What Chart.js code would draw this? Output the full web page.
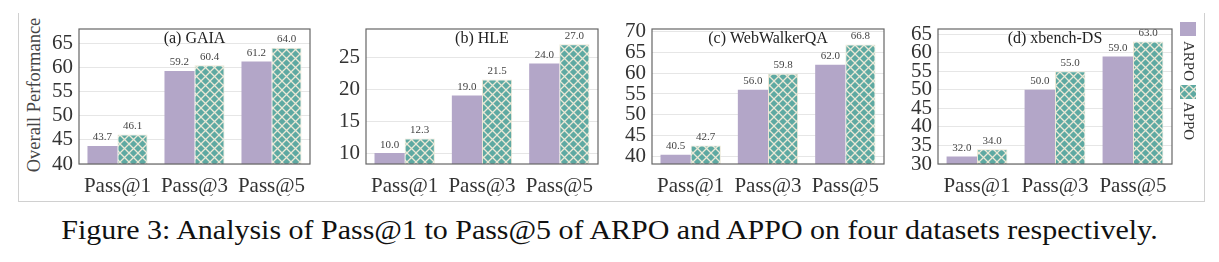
<!DOCTYPE html>
<html lang="en">
<head>
    <meta charset="UTF-8">
    <title>Pass@k of ARPO and APPO</title>
    <style>
        body {
            margin: 0;
            background: #fff;
            font-family: "Liberation Serif", "DejaVu Serif", serif;
        }
        #page {
            position: relative;
            width: 1219px;
            height: 262px;
            overflow: hidden;
        }
        .panel {
            position: absolute;
            top: 0;
            height: 200px;
        }
        #frame {
            position: absolute;
            left: 18px;
            top: 13px;
            width: 1185px;
            height: 188px;
            border-left: 1px solid #d0d0d0;
            border-right: 1px solid #d0d0d0;
            border-bottom: 1px solid #d0d0d0;
        }
        #ytitle {
            position: absolute;
            left: 34px;
            top: 95px;
            transform: translate(-50%, -50%) rotate(-90deg);
            font-size: 18.5px;
            color: #444;
            white-space: nowrap;
        }
        .legend-box {
            position: absolute;
            left: 1180px;
            width: 16px;
            height: 14px;
        }
        .legend-text {
            position: absolute;
            left: 1188px;
            transform: translate(-50%, -50%) rotate(90deg);
            font-size: 15px;
            color: #333;
            white-space: nowrap;
        }
        #caption {
            position: absolute;
            left: 0;
            width: 1219px;
            top: 217px;
            line-height: 1;
            text-align: center;
            font-size: 27px;
            transform: scaleX(1.11);
            color: #111;
        }
    </style>
</head>
<body>
<div id="page">
    <div id="frame"></div>
    <div id="ytitle">Overall Performance</div>
    <canvas id="c0" class="panel"></canvas>
    <canvas id="c1" class="panel"></canvas>
    <canvas id="c2" class="panel"></canvas>
    <canvas id="c3" class="panel"></canvas>
    <div class="legend-box" style="top:22px;background:#b3a6c8;"></div>
    <div class="legend-text" style="top:61px;">ARPO</div>
    <canvas id="leghatch" class="legend-box" width="16" height="14" style="top:85px;"></canvas>
    <div class="legend-text" style="top:121px;">APPO</div>
    <div id="caption">Figure 3: Analysis of Pass@1 to Pass@5 of ARPO and APPO on four datasets respectively.</div>
</div>

<script src="https://cdn.jsdelivr.net/npm/chart.js"></script>
<script>
    const categories = ["Pass@1", "Pass@3", "Pass@5"];
    const panelTitles = ["(a) GAIA", "(b) HLE", "(c) WebWalkerQA", "(d) xbench-DS"];
    const arpo = [
        [43.7, 59.2, 61.2],
        [10.0, 19.0, 24.0],
        [40.5, 56.0, 62.0],
        [32.0, 50.0, 59.0]
    ];
    const appo = [
        [46.1, 60.4, 64.0],
        [12.3, 21.5, 27.0],
        [42.7, 59.8, 66.8],
        [34.0, 55.0, 63.0]
    ];
    const yMin = [40, 8.3, 38.3, 30];
    const yMax = [67.9, 29.4, 70.5, 66.4];
    const yTicks = [
        [40, 45, 50, 55, 60, 65],
        [10, 15, 20, 25],
        [40, 45, 50, 55, 60, 65, 70],
        [30, 35, 40, 45, 50, 55, 60, 65]
    ];

    // plot area edges
    const plotLeft = [79, 366, 652, 938];
    const plotRight = [310, 598, 884, 1172];
    const plotTop = 29, plotBottom = 164;
    const yAxisW = 58;
    const xAxisH = 32;

    const purple = "#b3a6c8";
    const teal = "#5ea9a2";
    const hatchLine = "#ebe8d6";

    function makeHatch() {
        const s = 9;
        const c = document.createElement("canvas");
        c.width = s; c.height = s;
        const g = c.getContext("2d");
        g.fillStyle = teal;
        g.fillRect(0, 0, s, s);
        g.strokeStyle = hatchLine;
        g.lineWidth = 1.3;
        g.beginPath();
        g.moveTo(-1, -1); g.lineTo(s + 1, s + 1);
        g.moveTo(-1, s + 1); g.lineTo(s + 1, -1);
        g.stroke();
        return c;
    }
    const hatchCanvas = makeHatch();

    // legend hatch swatch
    (function () {
        const g = document.getElementById("leghatch").getContext("2d");
        g.fillStyle = g.createPattern(hatchCanvas, "repeat");
        g.fillRect(0, 0, 16, 14);
    })();

    const serif = "'Liberation Serif', 'DejaVu Serif', serif";

    const extras = {
        id: "extras",
        afterDatasetsDraw(chart, args, opts) {
            const ctx = chart.ctx;
            const area = chart.chartArea;
            ctx.save();
            // value labels
            ctx.font = "11px " + serif;
            ctx.fillStyle = "#444";
            ctx.textAlign = "center";
            ctx.textBaseline = "bottom";
            chart.data.datasets.forEach((ds, i) => {
                chart.getDatasetMeta(i).data.forEach((bar, j) => {
                    ctx.fillText(ds.data[j].toFixed(1), bar.x, bar.y - 3);
                });
            });
            // panel title
            ctx.font = "16px " + serif;
            ctx.fillStyle = "#222";
            ctx.textBaseline = "top";
            ctx.fillText(opts.title, (area.left + area.right) / 2, area.top + 2);
            // frame
            ctx.strokeStyle = "#666";
            ctx.lineWidth = 1.2;
            ctx.strokeRect(area.left, area.top, area.right - area.left, area.bottom - area.top);
            ctx.restore();
        }
    };

    for (let k = 0; k < 4; k++) {
        const cv = document.getElementById("c" + k);
        const w = yAxisW + (plotRight[k] - plotLeft[k]) + 4;
        cv.style.left = (plotLeft[k] - yAxisW) + "px";
        cv.style.width = w + "px";
        cv.width = w;
        cv.height = 200;
        const ctx = cv.getContext("2d");
        const pattern = ctx.createPattern(hatchCanvas, "repeat");
        new Chart(ctx, {
            type: "bar",
            data: {
                labels: categories,
                datasets: [
                    { label: "ARPO", data: arpo[k], backgroundColor: purple, borderWidth: 0 },
                    { label: "APPO", data: appo[k], backgroundColor: pattern, borderColor: hatchLine, borderWidth: 1 }
                ]
            },
            options: {
                responsive: false,
                animation: false,
                layout: { padding: { top: plotTop, right: 4, bottom: 200 - plotBottom - xAxisH, left: 0 } },
                datasets: { bar: { categoryPercentage: 0.78, barPercentage: 1.0 } },
                plugins: {
                    legend: { display: false },
                    tooltip: { enabled: false },
                    extras: { title: panelTitles[k] }
                },
                scales: {
                    x: {
                        grid: { display: false },
                        border: { display: false },
                        ticks: { font: { family: serif, size: 21 }, color: "#333", padding: 2 },
                        afterFit(s) { s.height = xAxisH; }
                    },
                    y: {
                        min: yMin[k],
                        max: yMax[k],
                        afterBuildTicks(s) { s.ticks = yTicks[k].map(v => ({ value: v })); },
                        grid: { color: "#e6e6e6", drawTicks: false },
                        border: { display: false },
                        ticks: { font: { family: serif, size: 21 }, color: "#333", padding: 6, autoSkip: false },
                        afterFit(s) { s.width = yAxisW; }
                    }
                }
            },
            plugins: [extras]
        });
    }
</script>
</body>
</html>
